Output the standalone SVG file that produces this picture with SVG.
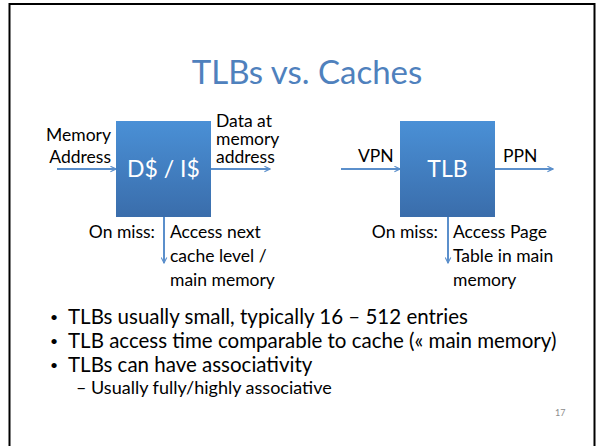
<svg xmlns="http://www.w3.org/2000/svg" width="602" height="446" viewBox="0 0 602 446">
  <defs>
    <linearGradient id="boxFill" x1="0" y1="0" x2="0" y2="1">
      <stop offset="0" stop-color="#4a90d6"/>
      <stop offset="1" stop-color="#3a6dab"/>
    </linearGradient>
    <marker id="arrow" viewBox="0 0 10 10" refX="9" refY="5" markerWidth="7" markerHeight="7" markerUnits="userSpaceOnUse" orient="auto">
      <path d="M1,1 L9,5 L1,9" fill="none" stroke="#5b8fcb" stroke-width="1.6"/>
    </marker>
  </defs>
  <style>
    text { font-family: Lato, "Liberation Sans", sans-serif; fill: #000; }
    .title { font-size: 33px; fill: #4f81bd; }
    .lbl { font-size: 17.5px; }
    .box-text { font-size: 23px; fill: #fff; }
    .bullet { font-size: 20.5px; }
    .dot { font-size: 14px; }
    .sub { font-size: 18px; }
    .page { font-size: 9px; fill: #8c8c8c; }
    .conn { stroke: #5b8fcb; stroke-width: 2; fill: none; marker-end: url(#arrow); }
  </style>

  <rect width="602" height="446" fill="#fff"/>
  <!-- slide frame, open at the bottom -->
  <path d="M9.5,446 V4 H594.5 V446" fill="none" stroke="#000" stroke-width="2"/>

  <text class="title" x="307" y="84" text-anchor="middle">TLBs vs. Caches</text>

  <g id="connectors">
    <line class="conn" x1="57" y1="169" x2="116" y2="169"/>
    <line class="conn" x1="211" y1="169" x2="270" y2="169"/>
    <line class="conn" x1="164" y1="217" x2="164" y2="263"/>
    <line class="conn" x1="341" y1="169" x2="400" y2="169"/>
    <line class="conn" x1="495" y1="169" x2="553" y2="169"/>
    <line class="conn" x1="448" y1="217" x2="448" y2="263"/>
  </g>

  <g id="cache">
    <rect x="116" y="121" width="95" height="96" fill="url(#boxFill)"/>
    <text class="box-text" x="163.5" y="177" text-anchor="middle">D$ / I$</text>
  </g>

  <g id="tlb">
    <rect x="400" y="121" width="95" height="96" fill="url(#boxFill)"/>
    <text class="box-text" x="447.5" y="177" text-anchor="middle">TLB</text>
  </g>

  <g id="cache-labels">
    <text class="lbl" x="111" y="141" text-anchor="end">Memory</text>
    <text class="lbl" x="111" y="163" text-anchor="end">Address</text>
    <text class="lbl" x="216" y="127">Data at</text>
    <text class="lbl" x="216" y="145">memory</text>
    <text class="lbl" x="216" y="163">address</text>
    <text class="lbl" x="155" y="238" text-anchor="end">On miss:</text>
    <text class="lbl" x="170" y="238">Access next</text>
    <text class="lbl" x="170" y="262">cache level /</text>
    <text class="lbl" x="170" y="286">main memory</text>
  </g>

  <g id="tlb-labels">
    <text class="lbl" x="358" y="162">VPN</text>
    <text class="lbl" x="503" y="162">PPN</text>
    <text class="lbl" x="438" y="238" text-anchor="end">On miss:</text>
    <text class="lbl" x="453" y="238">Access Page</text>
    <text class="lbl" x="453" y="262">Table in main</text>
    <text class="lbl" x="453" y="286">memory</text>
  </g>

  <g id="bullets">
    <text class="dot" x="50" y="322">•</text>
    <text class="bullet" x="68" y="324">TLBs usually small, typically 16 – 512 entries</text>
    <text class="dot" x="50" y="346">•</text>
    <text class="bullet" x="68" y="348">TLB access time comparable to cache (« main memory)</text>
    <text class="dot" x="50" y="370">•</text>
    <text class="bullet" x="68" y="372">TLBs can have associativity</text>
    <text class="sub" x="76" y="394">– Usually fully/highly associative</text>
  </g>

  <text class="page" x="555" y="416">17</text>
</svg>
